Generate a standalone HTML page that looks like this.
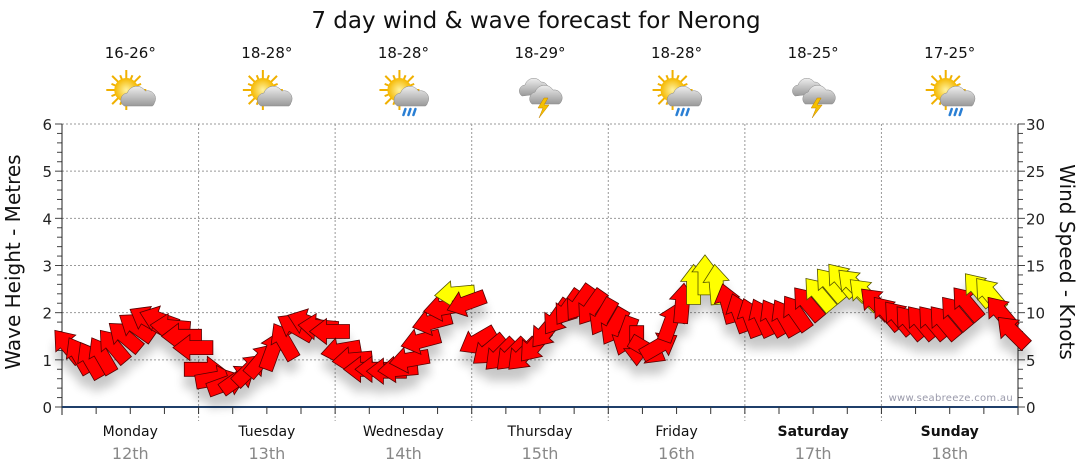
<!DOCTYPE html>
<html><head><meta charset="utf-8">
<style>
body{margin:0;background:#fff;}
svg{display:block;font-family:"DejaVu Sans",Verdana,sans-serif;}
</style></head>
<body>
<svg id="chart" width="1080" height="475" viewBox="0 0 1080 475" xmlns="http://www.w3.org/2000/svg">
<defs>
<filter id="sh" x="-30%" y="-30%" width="160%" height="190%"><feGaussianBlur in="SourceAlpha" stdDeviation="5"/><feOffset dy="12" result="b"/><feComponentTransfer><feFuncA type="linear" slope="0.22"/></feComponentTransfer><feMerge><feMergeNode/><feMergeNode in="SourceGraphic"/></feMerge></filter>
<radialGradient id="sun" cx="50%" cy="50%" r="50%"><stop offset="0" stop-color="#fff3a0"/><stop offset="1" stop-color="#f5b800"/></radialGradient>
<linearGradient id="cloud" x1="0" y1="0" x2="0" y2="1"><stop offset="0" stop-color="#eee"/><stop offset="1" stop-color="#999"/></linearGradient>
</defs>
<text x="536" y="28" text-anchor="middle" font-size="23" fill="#111">7 day wind &amp; wave forecast for Nerong</text>
<g id="grid"></g>
<g id="axes"></g>
<g id="header"></g>
<g id="arrows" filter="url(#sh)"></g>
<text x="1013" y="401" text-anchor="end" font-size="10" fill="#99a" letter-spacing="0.3">www.seabreeze.com.au</text>
<text transform="translate(20,262) rotate(-90)" text-anchor="middle" font-size="20" fill="#111">Wave Height - Metres</text>
<text transform="translate(1060,262) rotate(90)" text-anchor="middle" font-size="20" fill="#111">Wind Speed - Knots</text>
</svg>
<script>
const days=["Monday","Tuesday","Wednesday","Thursday","Friday","Saturday","Sunday"];
const dates=["12th","13th","14th","15th","16th","17th","18th"];
const temps=["16-26°","18-28°","18-28°","18-29°","18-28°","18-25°","17-25°"];
const icons=["suncloud","suncloud","sunrain","storm","sunrain","storm","sunrain"];
const leftTicks=[0,1,2,3,4,5,6];
const rightTicks=[0,5,10,15,20,25,30];
const windSpeed=[6.5,5.5,5,5.5,6.5,7.5,8.5,9.3,9.3,8.5,7.5,6.3,
 4,3,2.5,3,4,5,6,7,8.5,9,8.5,8,
 6,5,4,4,3.8,4,5,7,9,10.5,12,11,
 7,6,5.5,5.5,5.5,6.5,8,9.5,10.5,11,10.5,9.5,
 8.5,7.5,6.5,6,6.5,9,11,13,14,13,11,10,
 9.5,9.5,9.5,9.5,10,11,12,13,13.5,13,12,11,
 10,9.5,9,9,9,9,10,11,12.5,12,10,8];
const windDir=[140,150,150,150,140,130,125,120,110,95,90,90,
 270,260,250,235,225,220,200,150,120,110,95,90,
 80,85,90,90,90,85,80,75,75,80,85,70,
 60,50,45,45,45,40,40,35,35,35,35,30,
 30,20,360,300,240,200,185,180,180,175,165,160,
 160,155,150,150,145,140,140,140,140,135,135,135,
 140,140,140,140,140,140,140,140,140,140,140,135];
const X0=62,X1=1018,Y0=407,Y1=124,STEP=2;
const xT=h=>X0+h/168*(X1-X0);
const yM=m=>Y0-m/6*(Y0-Y1);
const yK=k=>Y0-k/30*(Y0-Y1);
const NS="http://www.w3.org/2000/svg";
function mk(tag,attrs,parent){const e=document.createElementNS(NS,tag);for(const k in attrs)e.setAttribute(k,attrs[k]);parent.appendChild(e);return e;}
const grid=document.getElementById('grid'),axes=document.getElementById('axes'),hdr=document.getElementById('header'),arr=document.getElementById('arrows');
leftTicks.forEach(v=>{
 if(v>0){const g=mk('line',{x1:X0,x2:X1,y1:yM(v),y2:yM(v),stroke:'#999','stroke-dasharray':'2,2'},grid);
 }
 const t=mk('text',{x:X0-10,y:yM(v)+6,'text-anchor':'end','font-size':15,fill:'#222'},axes);t.textContent=v;
 
});
rightTicks.forEach(v=>{const t=mk('text',{x:X1+8,y:yK(v)+6,'font-size':15,fill:'#222'},axes);t.textContent=v;
 });
for(let i=0;i<=30;i++){const y=Y0-i*(Y0-Y1)/30,l=(i%5==0)?7:5;
 mk('line',{x1:X0-l,x2:X0,y1:y,y2:y,stroke:'#444'},axes);mk('line',{x1:X1,x2:X1+l,y1:y,y2:y,stroke:'#444'},axes);}
mk('line',{x1:X0,x2:X0,y1:Y1,y2:Y0+8,stroke:'#222'},axes);
mk('line',{x1:X1,x2:X1,y1:Y1,y2:Y0+8,stroke:'#222'},axes);
const xa=mk('line',{x1:X0,x2:X1,y1:Y0,y2:Y0,stroke:'#1f3f6a','stroke-width':2},axes);

for(let h=6;h<168;h+=6){mk('line',{x1:xT(h),x2:xT(h),y1:Y0,y2:Y0+7,stroke:'#333'},axes);
 if(h%24==0){const g=mk('line',{x1:xT(h),x2:xT(h),y1:Y1,y2:Y0+14,stroke:'#999','stroke-dasharray':'2,2'},grid);
 }}
function icon(type,cx,cy,g){
 if(type!=='storm'){
  for(let a=0;a<16;a++){const r=a*Math.PI/8;mk('line',{x1:cx-6+Math.cos(r)*10,y1:cy-4+Math.sin(r)*10,x2:cx-6+Math.cos(r)*(a%2?16:20),y2:cy-4+Math.sin(r)*(a%2?16:20),stroke:'#f0b000','stroke-width':2},g);}
  mk('circle',{cx:cx-6,cy:cy-4,r:12,fill:'url(#sun)'},g);
  mk('path',{d:`M${cx-8} ${cy+12} a7 7 0 0 1 3-13 a10 10 0 0 1 18-2 a8 8 0 0 1 9 12 a4 4 0 0 1 -2 3z`,fill:'url(#cloud)',stroke:'#888','stroke-width':0.5},g);
  if(type==='sunrain'){for(let i=0;i<3;i++)mk('path',{d:`M${cx+i*5} ${cy+15} l-2 6`,stroke:'#2a7fd4','stroke-width':2.5,'stroke-linecap':'round'},g);}
 }else{
  mk('path',{d:`M${cx-20} ${cy+2} a6 6 0 0 1 3-11 a9 9 0 0 1 16-3 a7 7 0 0 1 6 11z`,fill:'url(#cloud)',stroke:'#888','stroke-width':0.5},g);
  mk('path',{d:`M${cx-10} ${cy+10} a7 7 0 0 1 3-12 a10 10 0 0 1 18-2 a8 8 0 0 1 8 12 a4 4 0 0 1 -2 2z`,fill:'url(#cloud)',stroke:'#888','stroke-width':0.5},g);
  mk('path',{d:`M${cx+2} ${cy+4} l-6 10 h5 l-4 10 l10-13 h-5 l4-7z`,fill:'#f5c000',stroke:'#c08000','stroke-width':0.5},g);
 }
}
days.forEach((d,i)=>{
 const cx=xT(i*24+12);
 const t=mk('text',{x:cx,y:58,'text-anchor':'middle','font-size':15,fill:'#111'},hdr);t.textContent=temps[i];
 
 const g=mk('g',{},hdr);
 icon(icons[i],cx+2,94,g);
 const dn=mk('text',{x:cx,y:436,'text-anchor':'middle','font-size':14,fill:'#111','font-weight':i>=5?'bold':'normal'},axes);dn.textContent=d;
 
 const dt=mk('text',{x:cx,y:459,'text-anchor':'middle','font-size':16,fill:'#888'},axes);dt.textContent=dates[i];
 
});
const shape="M20 0 L3 -13 L3 -7 L-20 -7 L-20 7 L3 7 L3 13 Z";
windSpeed.forEach((k,i)=>{
 const h=i*STEP+1,x=xT(h),y=yK(k);
 const rot=(windDir[i]+180)%360-90;
 const p=mk('path',{d:shape,transform:`translate(${x.toFixed(1)},${y.toFixed(1)}) rotate(${rot})`,fill:k>=12?'#ffff00':'#ff0000',stroke:k>=12?'#555500':'#550000','stroke-width':0.8,'stroke-linejoin':'miter'},arr);
 
 
});
</script>
</body></html>
